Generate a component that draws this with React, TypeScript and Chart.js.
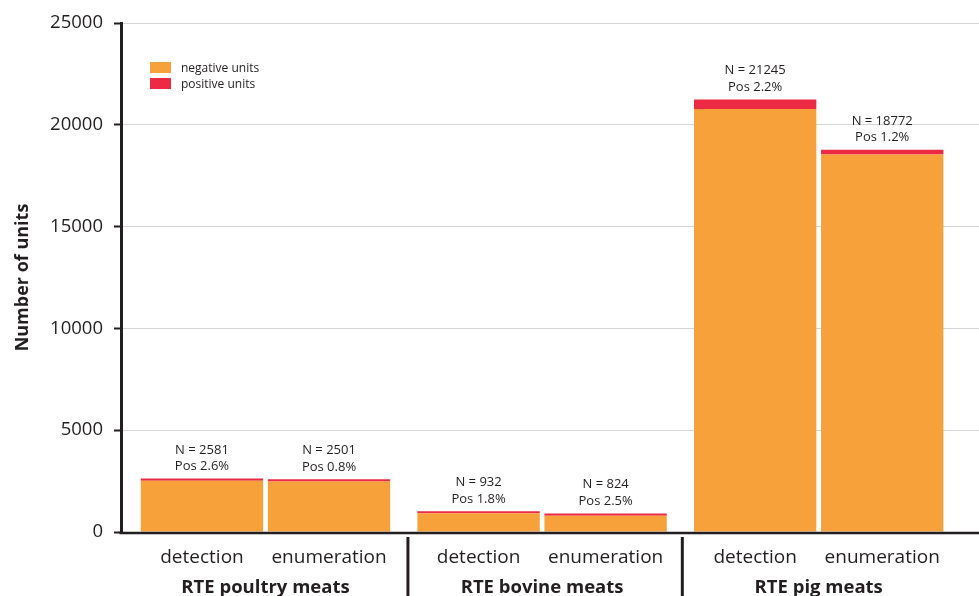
import React, { useEffect, useRef } from "react";
import { Chart, registerables } from "chart.js";

Chart.register(...registerables);

// ---- data ----
const groups = ["RTE poultry meats", "RTE bovine meats", "RTE pig meats"];
const methods = ["detection", "enumeration"];
const totalDetection = [2581, 932, 21245];
const totalEnumeration = [2501, 824, 18772];
const posPctDetection = ["2.6", "1.8", "2.2"];
const posPctEnumeration = ["0.8", "2.5", "1.2"];
const negativeDetection = [2514, 915, 20778];
const positiveDetection = [67, 17, 467];
const negativeEnumeration = [2481, 803, 18547];
const positiveEnumeration = [20, 21, 225];
const yTickValues = [0, 5000, 10000, 15000, 20000, 25000];
const legendLabels = ["negative units", "positive units"];

// ---- style ----
const FONT = "'Open Sans', 'Noto Sans', sans-serif";
const TEXT = "#231f20";
const ORANGE = "#f7a13b";
const RED = "#ec2a43";

const annotationPlugin = {
  id: "annotations",
  afterDatasetsDraw(chart: any) {
    const ctx = chart.ctx as CanvasRenderingContext2D;
    const xs = chart.scales.x;
    const ys = chart.scales.y;
    const area = chart.chartArea;
    ctx.save();

    // baseline (x axis line)
    const y0 = ys.getPixelForValue(0);
    ctx.strokeStyle = TEXT;
    ctx.lineWidth = 2.5;
    ctx.beginPath();
    ctx.moveTo(area.left - 1.5, y0 + 1);
    ctx.lineTo(area.right, y0 + 1);
    ctx.stroke();

    // labels above bars
    const topMetas = [chart.getDatasetMeta(1), chart.getDatasetMeta(3)];
    const totals = [totalDetection, totalEnumeration];
    const pcts = [posPctDetection, posPctEnumeration];
    ctx.fillStyle = TEXT;
    ctx.textAlign = "center";
    ctx.textBaseline = "alphabetic";
    topMetas.forEach((meta: any, m: number) => {
      meta.data.forEach((bar: any, i: number) => {
        ctx.font = `13px ${FONT}`;
        ctx.fillText(`N = ${totals[m][i]}`, bar.x, bar.y - 25);
        ctx.fillText(`Pos ${pcts[m][i]}%`, bar.x, bar.y - 8.5);
        // category labels under bars
        ctx.font = `19px ${FONT}`;
        ctx.fillText(methods[m], bar.x, 563);
      });
    });

    // group labels
    ctx.font = `bold 18.5px ${FONT}`;
    groups.forEach((g, i) => {
      ctx.fillText(g, xs.getPixelForValue(i), 593);
    });

    // separators
    ctx.strokeStyle = TEXT;
    ctx.lineWidth = 3;
    [0.515, 1.507].forEach((v) => {
      const px = xs.getPixelForValue(v);
      ctx.beginPath();
      ctx.moveTo(px, 537);
      ctx.lineTo(px, 596);
      ctx.stroke();
    });

    // legend
    const colors = [ORANGE, RED];
    ctx.textAlign = "left";
    ctx.font = `12px ${FONT}`;
    legendLabels.forEach((lab, i) => {
      ctx.fillStyle = colors[i];
      ctx.fillRect(150, 62 + i * 16, 21, 11);
      ctx.fillStyle = TEXT;
      ctx.fillText(lab, 181, 71.5 + i * 16);
    });

    ctx.restore();
  },
};

export default function App() {
  const ref = useRef<HTMLCanvasElement | null>(null);

  useEffect(() => {
    if (!ref.current) return;
    const mk = (arr: number[]) => groups.map((_, i) => ({ x: i, y: arr[i] }));
    const chart = new Chart(ref.current, {
      type: "bar",
      data: {
        datasets: [
          { label: legendLabels[0], data: mk(negativeDetection), backgroundColor: ORANGE, stack: "det" },
          { label: legendLabels[1], data: mk(positiveDetection), backgroundColor: RED, stack: "det", minBarLength: 2.2 },
          { label: legendLabels[0], data: mk(negativeEnumeration), backgroundColor: ORANGE, stack: "enum" },
          { label: legendLabels[1], data: mk(positiveEnumeration), backgroundColor: RED, stack: "enum", minBarLength: 2.2 },
        ] as any,
      },
      options: {
        animation: false,
        responsive: false,
        layout: { padding: { top: 23, bottom: 64, left: 0, right: 0 } },
        datasets: { bar: { categoryPercentage: 0.9186, barPercentage: 0.963 } } as any,
        plugins: { legend: { display: false }, tooltip: { enabled: false } },
        scales: {
          x: {
            type: "linear",
            display: false,
            min: -0.5224,
            max: 2.5796,
            offset: false,
            grid: { offset: false },
            afterBuildTicks: (s: any) => {
              s.ticks = groups.map((_, i) => ({ value: i }));
            },
          } as any,
          y: {
            stacked: true,
            min: 0,
            max: 25000,
            afterFit: (s: any) => {
              s.width = 121;
            },
            afterBuildTicks: (s: any) => {
              s.ticks = yTickValues.map((v) => ({ value: v }));
            },
            ticks: {
              stepSize: 5000,
              callback: (v: any) => String(v),
              font: { family: FONT, size: 18.5 },
              color: TEXT,
              padding: 11,
            },
            grid: {
              color: "#d6d6d6",
              lineWidth: 1,
              tickColor: TEXT,
              tickLength: 7,
              tickWidth: 2,
            },
            border: { color: TEXT, width: 3 },
            title: {
              display: true,
              text: "Number of units",
              font: { family: FONT, size: 18, weight: "bold" },
              color: TEXT,
              padding: { top: 12, bottom: 0 },
            },
          } as any,
        },
      },
      plugins: [annotationPlugin],
    });
    return () => chart.destroy();
  }, []);

  return (
    <canvas
      ref={ref}
      width={979}
      height={596}
      style={{ position: "absolute", left: 0, top: 0, width: 979, height: 596, display: "block" }}
    />
  );
}
